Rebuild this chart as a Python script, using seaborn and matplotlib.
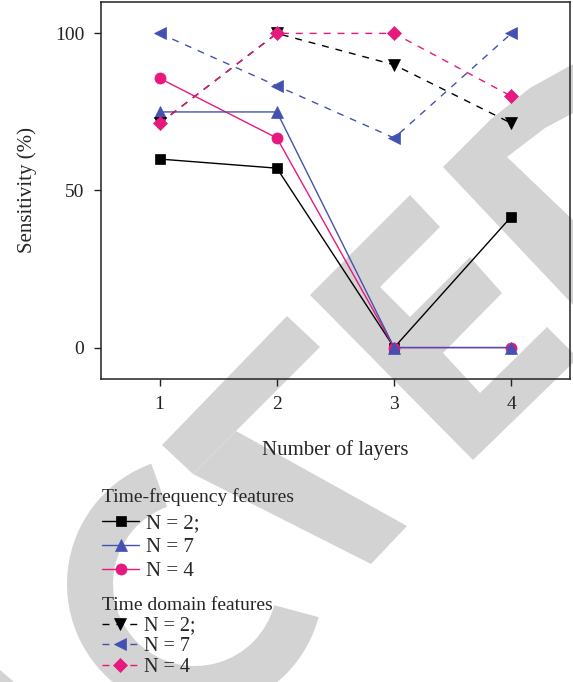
import matplotlib
matplotlib.use("Agg")
import matplotlib.pyplot as plt
from matplotlib.patches import Polygon, Wedge
import seaborn as sns

# x axis: number of layers
layers = [1, 2, 3, 4]

# Time-frequency features (solid lines)
tf_n2 = [60.0, 57.1, 0.0, 41.7]
tf_n7 = [75.0, 75.0, 0.0, 0.0]
tf_n4 = [85.7, 66.7, 0.0, 0.0]

# Time domain features (dashed lines)
td_n2 = [71.4, 100.0, 90.0, 71.4]
td_n7 = [100.0, 83.3, 66.7, 100.0]
td_n4 = [71.4, 100.0, 100.0, 80.0]

labels = ["N = 2;", "N = 7", "N = 4"]

BLACK = "#000000"
BLUE = "#4352B0"
PINK = "#E6197E"
GREY = "#D3D3D3"
W, H = 573, 682


def draw_watermark(wax):
    """Grey 'RETRACTED' stamp behind the chart (pixel coords, y from top)."""
    wax.set_xlim(0, W)
    wax.set_ylim(0, H)
    wax.axis("off")

    def flip(pts):
        return [(x, H - y) for x, y in pts]

    shapes = [
        # T
        [(162, 445), (193, 474), (320, 347), (287, 316)],
        [(193, 474), (236, 431), (407, 526), (371, 564)],
        # E
        [(310, 295), (410, 195), (440, 227), (380, 287), (410, 317),
         (470, 257), (502, 293), (443, 353), (480, 393), (547, 327),
         (578, 358), (473, 460)],
        # D
        [(443, 167), (490, 120), (530, 88), (575, 63), (575, 112),
         (545, 128), (507, 157), (575, 222), (575, 307)],
        # A (corner)
        [(0, 670), (0, 682), (14, 682)],
    ]
    for pts in shapes:
        wax.add_patch(Polygon(flip(pts), closed=True, color=GREY, lw=0))
    # C
    wax.add_patch(Wedge((195, H - 584), 128, 110, 345, width=46,
                        color=GREY, lw=0))


sns.set_style("ticks")
plt.rcParams["font.family"] = ["Liberation Serif", "DejaVu Serif"]
plt.rcParams["axes.edgecolor"] = "#222222"

fig = plt.figure(figsize=(5.73, 6.82), dpi=100)
wm = fig.add_axes([0, 0, 1, 1], zorder=0)
draw_watermark(wm)

ax = fig.add_axes([0.1763, 0.4443, 0.8185, 0.5528], zorder=1)
ax.patch.set_alpha(0)


def add_line(y, color, marker, ls, ms):
    sns.lineplot(x=layers, y=y, ax=ax, color=color, marker=marker,
                 linestyle=ls, linewidth=1.0, markersize=ms,
                 markeredgecolor=color, markeredgewidth=0.5)
    return ax.lines[-1]


dash = (0, (5, 5))
l_tf2 = add_line(tf_n2, BLACK, "s", "-", 7)
l_tf4 = add_line(tf_n4, PINK, "o", "-", 8)
l_tf7 = add_line(tf_n7, BLUE, "^", "-", 8.5)
l_td2 = add_line(td_n2, BLACK, "v", dash, 8.5)
l_td7 = add_line(td_n7, BLUE, "<", dash, 8.5)
l_td4 = add_line(td_n4, PINK, "D", dash, 7)

ax.set_xlim(0.5, 4.5)
ax.set_ylim(-10, 110)
ax.set_xticks(layers)
ax.set_yticks([0, 50, 100])
ax.tick_params(direction="out", length=5, width=1, pad=7, labelsize=14,
               colors="#222222")
for s in ax.spines.values():
    s.set_linewidth(1.1)
ax.set_xlabel("Number of layers", fontsize=15, labelpad=20)
ax.set_ylabel("Sensitivity (%)", fontsize=15, labelpad=13)

leg_kw = dict(loc="upper left", frameon=False, alignment="left",
              title_fontsize=14, handlelength=1.8,
              handletextpad=0.3, borderpad=0, borderaxespad=0)
leg1 = fig.legend([l_tf2, l_tf7, l_tf4], labels, fontsize=15,
                  title="Time-frequency features", labelspacing=0.2,
                  bbox_to_anchor=(0.178, 0.285), **leg_kw)
leg1._legend_box.sep = 6
leg2 = fig.legend([l_td2, l_td7, l_td4], labels, fontsize=14.5,
                  title="Time domain features", labelspacing=0.08,
                  bbox_to_anchor=(0.178, 0.125), **leg_kw)
leg2._legend_box.sep = 2

fig.savefig("out.png", dpi=100, facecolor="white")
